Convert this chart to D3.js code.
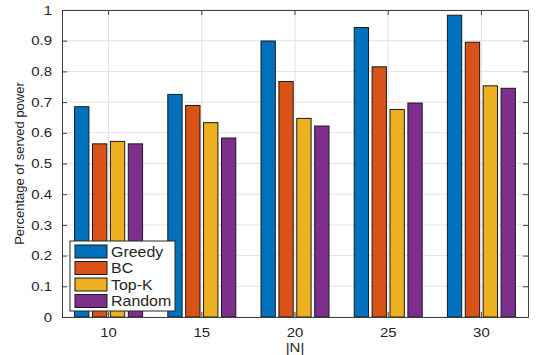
<!DOCTYPE html>
<html>
<head>
<meta charset="utf-8">
<script src="https://cdn.jsdelivr.net/npm/d3@7"></script>
<style>
  body { margin: 0; background: #fff; }
  text { font-family: "Liberation Sans", Arial, sans-serif; }
</style>
</head>
<body>
<svg width="536" height="355"></svg>
<script>
var categories = ["10", "15", "20", "25", "30"];
var methods = ["Greedy", "BC", "Top-K", "Random"];
var greedy = [0.685, 0.725, 0.899, 0.943, 0.983];
var bc = [0.564, 0.689, 0.767, 0.815, 0.895];
var topk = [0.572, 0.633, 0.647, 0.676, 0.753];
var random = [0.564, 0.583, 0.622, 0.697, 0.745];
var yTicks = [0, 0.1, 0.2, 0.3, 0.4, 0.5, 0.6, 0.7, 0.8, 0.9, 1];
var colors = ["#0072BD", "#D95319", "#EDB120", "#7E2F8E"];

var series = [greedy, bc, topk, random];

var svg = d3.select("svg");
const margin = { left: 62, right: 8, top: 10, bottom: 38 };
const width = +svg.attr("width");
const height = +svg.attr("height");
const w = width - margin.left - margin.right;
const h = height - margin.top - margin.bottom;
const stretch = 1.15; // text in the picture is a bit wide

var g = svg.append("g").attr("transform", "translate(" + margin.left + "," + margin.top + ")");

var x = d3.scaleBand().domain(categories).range([0, w]).padding(0);
var y = d3.scaleLinear().domain([0, 1]).range([h, 0]);
var xs = d3.scaleBand().domain(methods).range([-34, 34]).paddingInner(0.2);

// grid
g.append("g")
  .selectAll("line")
  .data(yTicks)
  .join("line")
  .attr("x1", 0)
  .attr("x2", w)
  .attr("y1", (d) => y(d))
  .attr("y2", (d) => y(d))
  .attr("stroke", "#e3e3e3");

g.append("g")
  .selectAll("line")
  .data(categories)
  .join("line")
  .attr("x1", (d) => x(d) + x.bandwidth() / 2)
  .attr("x2", (d) => x(d) + x.bandwidth() / 2)
  .attr("y1", 0)
  .attr("y2", h)
  .attr("stroke", "#e3e3e3");

// bars
var rows = [];
categories.forEach(function (c, i) {
  methods.forEach(function (m, j) {
    rows.push({ cat: c, method: m, value: series[j][i], color: colors[j] });
  });
});

g.append("g")
  .selectAll("rect")
  .data(rows)
  .join("rect")
  .attr("x", (d) => x(d.cat) + x.bandwidth() / 2 + xs(d.method))
  .attr("width", xs.bandwidth())
  .attr("y", (d) => y(d.value))
  .attr("height", (d) => h - y(d.value))
  .attr("fill", (d) => d.color)
  .attr("stroke", "#1a1a1a")
  .attr("stroke-width", 1);

// axes
var axisColor = "#404040";
var xb = g.append("g").attr("transform", "translate(0," + h + ")")
  .call(d3.axisBottom(x).tickSizeInner(-5).tickSizeOuter(0).tickPadding(11));
var xt = g.append("g")
  .call(d3.axisTop(x).tickSizeInner(-5).tickSizeOuter(0).tickFormat(""));
var yl = g.append("g")
  .call(d3.axisLeft(y).tickValues(yTicks).tickSizeInner(-5).tickSizeOuter(0).tickPadding(10).tickFormat(d3.format("")));
var yr = g.append("g").attr("transform", "translate(" + w + ",0)")
  .call(d3.axisRight(y).tickValues(yTicks).tickSizeInner(-5).tickSizeOuter(0).tickFormat(""));

[xb, xt, yl, yr].forEach(function (a) {
  a.selectAll("path").attr("stroke", axisColor);
  a.selectAll("line").attr("stroke", axisColor);
  a.selectAll("text").attr("fill", "#262626").style("font-size", "13px").style("font-family", "Liberation Sans, Arial, sans-serif");
});
xb.selectAll("text").attr("transform", "scale(" + stretch + ",1)");
yl.selectAll("text")
  .attr("x", -10 / stretch)
  .attr("transform", "scale(" + stretch + ",1)");

// labels
svg.append("text")
  .attr("transform", "translate(" + (margin.left + w / 2) + ",352) scale(" + stretch + ",1)")
  .attr("text-anchor", "middle")
  .attr("fill", "#262626")
  .style("font-size", "13px")
  .text("|N|");

svg.append("text")
  .attr("transform", "translate(24," + (margin.top + h / 2) + ") rotate(-90)")
  .attr("text-anchor", "middle")
  .attr("fill", "#262626")
  .style("font-size", "13px")
  .text("Percentage of served power");

// legend
var lg = svg.append("g").attr("transform", "translate(70,241)");
lg.append("rect")
  .attr("width", 105)
  .attr("height", 70)
  .attr("fill", "#fff")
  .attr("stroke", "#262626");

var item = lg.selectAll("g.item")
  .data(methods)
  .join("g")
  .attr("transform", (d, i) => "translate(0," + (4 + i * 16.5) + ")");

item.append("rect")
  .attr("x", 5)
  .attr("y", 0)
  .attr("width", 32)
  .attr("height", 13)
  .attr("fill", (d, i) => colors[i])
  .attr("stroke", "#1a1a1a");

item.append("text")
  .attr("transform", "translate(41,11.5) scale(1.1,1)")
  .attr("fill", "#262626")
  .style("font-size", "14.5px")
  .text((d) => d);
</script>
</body>
</html>
